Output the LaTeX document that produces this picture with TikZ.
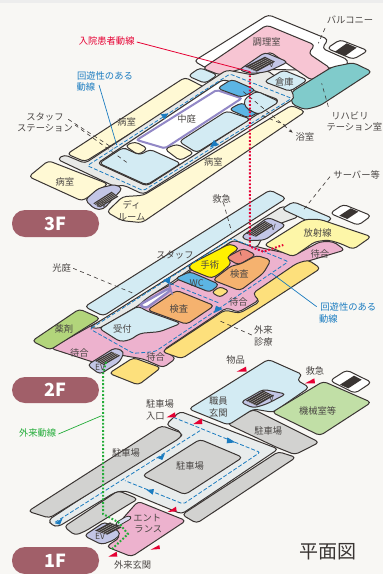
\documentclass[tikz,border=0pt]{standalone}
\usepackage{fontspec}
\setmainfont{Noto Sans CJK JP}
\usetikzlibrary{calc,arrows.meta}
\definecolor{bgc}{HTML}{F8F7F4}
\definecolor{ink}{HTML}{3A3533}
\definecolor{txt}{HTML}{4A4644}
\definecolor{lblue}{HTML}{D3EBF3}
\definecolor{mblue}{HTML}{5CB5E4}
\definecolor{cream}{HTML}{FFF9D4}
\definecolor{lgray}{HTML}{E8E9E7}
\definecolor{pinkA}{HTML}{F7C5D3}
\definecolor{pinkB}{HTML}{EDB2CE}
\definecolor{teal}{HTML}{80CBCB}
\definecolor{lav}{HTML}{C3C6E6}
\definecolor{lavd}{HTML}{9288C6}
\definecolor{yelA}{HTML}{FDF6A8}
\definecolor{yelB}{HTML}{FDE07C}
\definecolor{yelC}{HTML}{FFF000}
\definecolor{salm}{HTML}{EE8B7C}
\definecolor{orng}{HTML}{F5B26F}
\definecolor{grnA}{HTML}{B2D57B}
\definecolor{grnB}{HTML}{C1DFA6}
\definecolor{park}{HTML}{D2D2D0}
\definecolor{road}{HTML}{E8ECEC}
\definecolor{pillc}{HTML}{A15F69}
\definecolor{blueL}{HTML}{1B7CC0}
\definecolor{redL}{HTML}{E60033}
\definecolor{grnL}{HTML}{22AC38}
\tikzset{
  zone/.style={draw=ink,line width=1pt,rounded corners=3.8pt,line join=round},
  z1/.style={x=0.33333pt,y=-0.33333pt},
  z2/.style={x=0.33333pt,y=-0.33333pt,yshift=-185pt},
  z3/.style={x=0.33333pt,y=-0.33333pt,yshift=-374pt},
  lab/.style={font=\fontsize{9.3pt}{10pt}\selectfont,text=txt,inner sep=0pt},
  bluelab/.style={lab,text=blueL},
  evlab/.style={lab,font=\fontsize{8.5pt}{9pt}\selectfont},
  leader/.style={draw=ink,line width=0.6pt,dash pattern=on 4pt off 3.5pt},
  loop/.style={draw=blueL,line width=0.8pt,dash pattern=on 4pt off 2pt,rounded corners=2pt},
  flooftxt/.style={font=\fontsize{18pt}{19pt}\bfseries\selectfont,text=white,inner sep=0pt},
  flag/.style={fill=redL,draw=none},
  bluehead/.style={fill=blueL,draw=none},
  dotted route/.style={line width=2pt,dash pattern=on 1.8pt off 1.8pt}
}
\newcommand{\stairsbox}[4]{%
  \fill[ink] #1 -- #2 -- #3 -- #4 -- cycle;
  \foreach \t in {0.2,0.4,0.6,0.8}{\draw[white!70!ink,line width=0.3pt] ($#1!\t!#4$) -- ($#2!\t!#3$);}
}
\begin{document}
\begin{tikzpicture}
\useasboundingbox (0,0) rectangle (383pt,-574pt);
\clip (0,0) rectangle (383pt,-574pt);
\fill[bgc] (0,0) rectangle (383pt,-574pt);
\fill[black!7] (0,0) rectangle (383pt,-3pt);

% ---------- 1F ----------
\begin{scope}[z3]
\draw[zone,fill=white] (990,20) -- (1040,-12) -- (1115,25) -- (1065,58) -- cycle;
\fill[ink] (1020,32) -- (1062,5) -- (1085,17) -- (1045,43) -- cycle;
\draw[zone,fill=road] (145,438) -- (545,175) -- (498,152) -- (540,112) -- (835,225) -- (545,420) -- (375,350) -- (345,355) -- (175,458) -- (155,454) -- cycle;
\draw[zone,fill=park] (84,412) -- (485,155) -- (548,178) -- (540,192) -- (148,432) -- cycle;
\draw[zone,fill=park] (192,458) -- (355,350) -- (414,375) -- (385,392) -- (255,472) -- (225,484) -- cycle;
\draw[zone,fill=park] (427,305) -- (600,196) -- (728,250) -- (555,362) -- cycle;
\draw[zone,fill=park] (546,422) -- (835,233) -- (888,250) -- (590,448) -- cycle;
\draw[zone,fill=park] (682,150) -- (760,106) -- (958,205) -- (885,242) -- (830,220) -- cycle;
\draw[zone,fill=lblue] (566,105) -- (805,-44) -- (908,2) -- (890,18) -- (928,40) -- (820,115) -- (760,105) -- (685,153) -- cycle;
\draw[zone,fill=grnB] (816,115) -- (970,22) -- (1114,85) -- (960,185) -- cycle;
\draw[zone,fill=lav] (722,85) -- (790,46) -- (858,60) -- (800,90) -- (760,102) -- cycle;
\stairsbox{(738,80)}{(790,50)}{(822,65)}{(770,95)}
\draw[zone,fill=pinkB] (319,518) -- (360,490) -- (345,460) -- (414,382) -- (558,440) -- (395,548) -- cycle;
\draw[zone,fill=lav] (252,485) -- (315,443) -- (363,478) -- (345,497) -- (305,512) -- cycle;
\stairsbox{(285,470)}{(330,445)}{(365,460)}{(322,482)}
\draw[zone,fill=lav!60!white,rounded corners=3pt,line width=0.8pt] (345,447) -- (385,424) -- (397,432) -- (352,458) -- cycle;
\draw[loop] (165,445) -- (600,170);
\draw[loop] (520,130) -- (780,235) -- (550,390) -- (375,320);
\fill[bluehead] (165,448) -- (188,432) -- (180,452) -- cycle;
\fill[bluehead] (472,252) -- (495,238) -- (487,258) -- cycle;
\fill[bluehead] (706,205) -- (682,190) -- (680,208) -- cycle;
\fill[bluehead] (440,348) -- (462,345) -- (458,362) -- cycle;
\fill[flag] (500,130) -- (525,115) -- (527,130) -- cycle;
\fill[flag] (580,150) -- (605,133) -- (607,150) -- cycle;
\fill[flag] (503,414) -- (528,398) -- (530,412) -- cycle;
\fill[flag] (452,527) -- (478,513) -- (480,525) -- cycle;
\fill[flag] (325,548) -- (350,533) -- (352,548) -- cycle;
\node[lab] (p1a) at (480,90) {駐車場};
\node[lab] (p1b) at (466,127) {入口};
\node[lab] (s1) at (655,82) {職員};
\node[lab] (s2) at (655,118) {玄関};
\node[lab] (p2) at (805,170) {駐車場};
\node[lab] (m1) at (953,110) {機械室等};
\node[lab] (p3) at (378,238) {駐車場};
\node[lab] (p4) at (570,277) {駐車場};
\node[lab] (e1) at (442,433) {エント};
\node[lab] (e2) at (445,467) {ランス};
\node[lab] (e3) at (398,573) {外来玄関};
\node[evlab] (ev1) at (300,488) {EV};
\node[evlab] (ev2) at (815,72) {V};
\node[lab,text=grnL] (gl) at (113,178) {外来動線};
\coordinate (glend) at (305,125);
\draw[grnL,line width=0.7pt] (gl.east) ++(6,2) -- (glend);
\node[inner sep=0pt,font=\fontsize{19pt}{20pt}\selectfont,text=ink] (plan) at (985,533) {平面図};
\end{scope}

% ---------- 2F ----------
\begin{scope}[z2]
\draw[zone,fill=white] (990,85) -- (1030,58) -- (1114,92) -- (1075,121) -- cycle;
\fill[ink] (1018,92) -- (1052,70) -- (1075,80) -- (1042,102) -- cycle;
\draw[zone,fill=pinkB] (152,490) -- (268,425) -- (520,295) -- (700,165) -- (790,190) -- (885,210) -- (960,170) -- (1000,170) -- (1035,195) -- (885,240) -- (760,325) -- (778,345) -- (715,382) -- (680,368) -- (490,495) -- (528,520) -- (490,548) -- (430,522) -- (360,510) -- (300,538) -- cycle;
\draw[zone,fill=lgray] (268,428) -- (850,62) -- (897,95) -- (800,130) -- (770,190) -- (700,165) -- (510,295) -- (440,340) -- (415,362) -- (300,430) -- cycle;
\draw[zone,fill=lblue] (254,365) -- (810,15) -- (859,40) -- (310,393) -- cycle;
\draw[zone,fill=lblue] (845,72) -- (880,50) -- (998,100) -- (960,125) -- cycle;
\draw[zone,fill=grnA] (96,468) -- (238,372) -- (301,400) -- (150,495) -- cycle;
\draw[zone,fill=yelA] (792,180) -- (915,103) -- (960,103) -- (1114,155) -- (1060,193) -- (1020,175) -- (985,165) -- (945,170) -- (880,215) -- cycle;
\draw[zone,fill=yelB] (486,500) -- (675,375) -- (718,385) -- (780,350) -- (758,325) -- (890,235) -- (925,225) -- (962,250) -- (545,521) -- cycle;
\draw[zone,fill=yelC] (566,240) -- (690,176) -- (718,190) -- (682,215) -- (695,235) -- (660,265) -- (635,280) -- (570,254) -- cycle;
\draw[zone,fill=salm] (678,218) -- (730,190) -- (768,210) -- (715,240) -- cycle;
\draw[zone,fill=orng] (638,285) -- (695,242) -- (720,238) -- (770,211) -- (813,225) -- (790,265) -- (720,317) -- cycle;
\draw[zone,fill=mblue] (525,280) -- (570,260) -- (658,298) -- (630,322) -- cycle;
\draw[zone,fill=yelB,rounded corners=3pt] (635,322) -- (660,305) -- (687,318) -- (660,337) -- cycle;
\draw[zone,fill=lblue] (297,430) -- (415,363) -- (440,378) -- (543,415) -- (480,440) -- (420,445) -- (390,465) -- (360,470) -- cycle;
\draw[zone,fill=orng] (442,375) -- (530,316) -- (643,362) -- (560,418) -- cycle;
\draw[line width=2.4pt,draw=lavd,fill=white,rounded corners=3pt] (418,360) -- (510,308) -- (512,316) -- (438,370) -- cycle;
\draw[zone,fill=yelB] (327,565) -- (400,518) -- (483,548) -- (415,600) -- cycle;
\draw[zone,fill=lav] (262,540) -- (345,488) -- (373,500) -- (360,530) -- (300,568) -- cycle;
\stairsbox{(285,528)}{(335,500)}{(360,512)}{(312,540)}
\draw[zone,fill=lav] (723,156) -- (804,97) -- (858,120) -- (795,165) -- (744,167) -- cycle;
\stairsbox{(738,145)}{(795,108)}{(820,122)}{(768,155)}
\draw[loop] (270,432) -- (695,160) -- (865,230) -- (465,500) -- (400,505) -- cycle;
\draw[loop] (510,295) -- (660,355);
\fill[bluehead] (512,275) -- (490,285) -- (508,298) -- cycle;
\fill[bluehead] (642,384) -- (648,362) -- (668,372) -- cycle;
\node[lab] (k1) at (665,43) {救急};
\node[lab] (r1) at (953,145) {放射線};
\node[lab] (w1) at (960,208) {待合};
\node[lab] (st) at (525,210) {スタッフ};
\node[lab] (op) at (630,240) {手術};
\node[lab] (x1) at (718,267) {検査};
\node[lab] (wc) at (590,293) {WC};
\node[lab] (hk) at (185,248) {光庭};
\node[lab] (x2) at (537,373) {検査};
\node[lab] (w2) at (715,350) {待合};
\node[lab] (uk) at (367,433) {受付};
\node[lab] (yk) at (192,433) {薬剤};
\node[lab] (w3) at (238,505) {待合};
\node[lab] (w4) at (467,515) {待合};
\node[bluelab] (lp1) at (1045,367) {回遊性のある};
\node[bluelab] (lp2) at (985,402) {動線};
\node[lab] (g1) at (790,435) {外来};
\node[lab] (g2) at (790,472) {診療};
\node[evlab] (ev3) at (300,547) {EV};
\node[evlab] (ev4) at (820,127) {V};
\node[lab] (bh) at (707,525) {物品};
\node[lab] (k2) at (945,558) {救急};
\fill[flag] (710,560) -- (738,545) -- (740,560) -- cycle;
\fill[flag] (915,595) -- (943,580) -- (945,595) -- cycle;
\coordinate (kend) at (695,140);
\coordinate (hend) at (400,325);
\coordinate (gend) at (660,408);
\coordinate (lpend) at (815,265);
\draw[leader] (k1.south) ++(5,-4) -- (kend);
\draw[leader] (hk.east) ++(6,2) -- (hend);
\draw[leader] (755,450) -- (gend);
\draw[leader] (720,200) -- (725,215);
\draw[blueL,line width=0.7pt] (950,365) -- (lpend);
\end{scope}

% ---------- 3F ----------
\begin{scope}[z1]
\draw[zone,fill=white] (582,183) -- (805,44) -- (985,118) -- (966,145) -- (1045,180) -- (1040,200) -- (900,210) -- (620,205) -- cycle;
\draw[zone,fill=white] (981,145) -- (1020,119) -- (1104,152) -- (1060,178) -- cycle;
\fill[ink] (1005,155) -- (1040,130) -- (1070,143) -- (1035,168) -- cycle;
\draw[zone,fill=pinkA] (608,205) -- (800,75) -- (945,135) -- (925,160) -- (992,205) -- (935,241) -- (860,190) -- (810,155) -- (730,205) -- (660,225) -- cycle;
\draw[zone,fill=teal] (874,276) -- (996,201) -- (1060,188) -- (1116,215) -- (960,317) -- (915,329) -- (875,312) -- cycle;
\draw[zone,fill=cream] (201,462) -- (555,232) -- (614,262) -- (255,485) -- cycle;
\draw[zone,fill=lblue] (564,228) -- (600,203) -- (653,225) -- (615,250) -- cycle;
\draw[zone,fill=cream] (875,316) -- (916,335) -- (426,668) -- (366,662) -- (320,636) -- (368,590) -- (430,586) -- cycle;
\draw[zone,fill=cream] (86,530) -- (145,482) -- (325,552) -- (246,603) -- cycle;
\draw[zone,fill=lgray] (172,478) -- (193,464) -- (255,490) -- (680,210) -- (760,225) -- (800,210) -- (870,262) -- (884,295) -- (430,583) -- (370,555) -- (345,560) -- cycle;
\draw[zone,fill=lblue] (792,245) -- (850,210) -- (923,240) -- (870,274) -- cycle;
\draw[zone,fill=white,line width=1.1pt] (292,490) -- (670,238) -- (838,300) -- (440,558) -- cycle;
\draw[line width=2pt,draw=lavd,fill=white,rounded corners=2pt] (410,420) -- (650,270) -- (725,295) -- (495,445) -- cycle;
\draw[zone,fill=lblue] (297,490) -- (370,442) -- (385,450) -- (420,465) -- (450,448) -- (543,490) -- (440,555) -- cycle;
\draw[zone,fill=cream] (375,437) -- (405,425) -- (443,445) -- (415,465) -- cycle;
\draw[zone,fill=cream] (494,447) -- (531,432) -- (582,459) -- (540,482) -- cycle;
\draw[zone,fill=lblue] (537,425) -- (680,333) -- (752,357) -- (590,458) -- cycle;
\draw[zone,fill=mblue] (687,328) -- (725,308) -- (778,335) -- (745,354) -- cycle;
\draw[zone,fill=mblue] (652,265) -- (695,238) -- (768,270) -- (725,292) -- cycle;
\draw[zone,fill=lblue] (732,298) -- (770,273) -- (838,305) -- (775,344) -- (735,322) -- cycle;
\draw[zone,fill=lav] (717,210) -- (795,157) -- (864,186) -- (810,212) -- (786,218) -- (750,220) -- cycle;
\stairsbox{(735,200)}{(795,170)}{(825,185)}{(770,215)}
\draw[zone,fill=lav] (255,600) -- (295,565) -- (345,553) -- (368,565) -- (345,590) -- (310,628) -- (285,628) -- cycle;
\stairsbox{(280,610)}{(335,575)}{(355,590)}{(300,622)}
\draw[loop] (262,497) -- (690,222) -- (875,295) -- (430,572) -- cycle;
\fill[bluehead] (505,340) -- (482,343) -- (494,358) -- cycle;
\fill[bluehead] (630,442) -- (642,420) -- (657,435) -- cycle;
\node[lab] (bl) at (1050,58) {バルコニー};
\node[lab] (ch) at (800,127) {調理室};
\node[lab,text=redL] (rd) at (320,124) {入院患者動線};
\node[bluelab] (lq1) at (315,227) {回遊性のある};
\node[bluelab] (lq2) at (258,260) {動線};
\node[lab] (so) at (853,245) {倉庫};
\node[lab] (nk) at (560,358) {中庭};
\node[lab] (b1) at (380,365) {病室};
\node[lab] (ss1) at (135,350) {スタッフ};
\node[lab] (ss2) at (135,385) {ステーション};
\node[lab] (b2) at (640,485) {病室};
\node[lab] (b3) at (195,545) {病室};
\node[lab] (rh1) at (1050,347) {リハビリ};
\node[lab] (rh2) at (1063,381) {テーション室};
\node[lab] (yu) at (915,410) {浴室};
\node[lab] (sv) at (1070,525) {サーバー等};
\node[lab] (d1) at (395,615) {ディ};
\node[lab] (d2) at (395,652) {ルーム};
\node[evlab] (ev5) at (305,612) {EV};
\node[evlab] (ev6) at (815,192) {V};
\draw[leader] (975,85) -- (955,130);
\draw[leader] (205,358) -- (340,445);
\draw[leader] (225,375) -- (380,487);
\draw[leader] (985,320) -- (965,250);
\draw[leader,-{Stealth[length=4pt,width=3pt]}] (730,275) -- (878,398);
\draw[leader] (745,330) -- (855,375);
\draw[leader] (990,530) -- (910,630);
\draw[blueL,line width=0.7pt] (297,255) -- (350,435);
\coordinate (rA) at (750,215);
\coordinate (rB) at (750,740);
\coordinate (rC) at (790,755);
\coordinate (rD) at (850,735);
\draw[redL,line width=0.8pt] (rd.east) ++(6,2) -- (rA);
\draw[redL,dotted route] (rA) -- (rB) -- (rC) -- (rD);
\end{scope}
\draw[grnL,dotted route] (106pt,-362pt) -- (103pt,-374pt) -- (103pt,-514pt) -- (118pt,-522pt) -- (128pt,-534pt) -- (112pt,-549pt);

% floor pills
\fill[pillc,rounded corners=13pt] (12pt,-210pt) rectangle (99pt,-237pt);
\node[flooftxt] (f3) at (55.5pt,-223.5pt) {3F};
\fill[pillc,rounded corners=13pt] (12pt,-377pt) rectangle (99pt,-403pt);
\node[flooftxt] (f2) at (55.5pt,-390pt) {2F};
\fill[pillc,rounded corners=13pt] (12pt,-547pt) rectangle (99pt,-574pt);
\node[flooftxt] (f1) at (55.5pt,-560.5pt) {1F};
\end{tikzpicture}
\end{document}
